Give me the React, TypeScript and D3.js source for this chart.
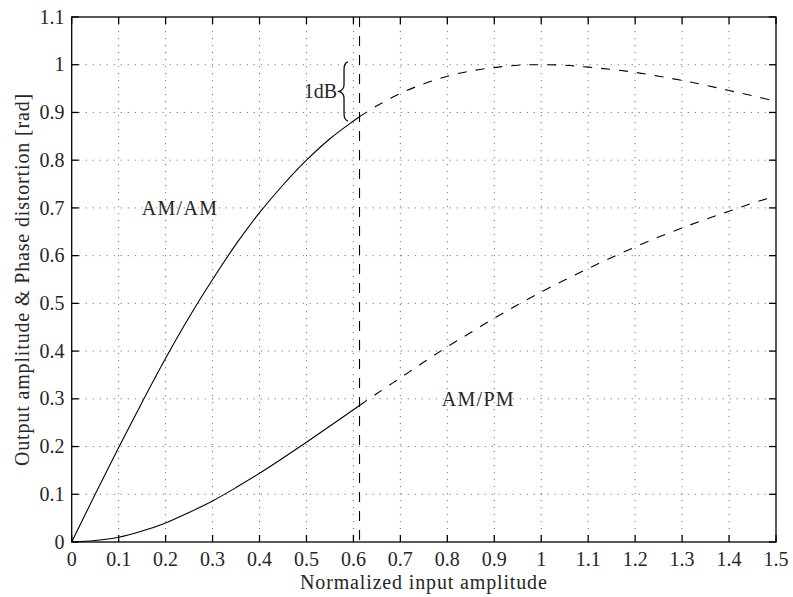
import React from "react";
import * as d3 from "d3";

// Normalized input amplitude samples
const inputAmp = [
  0, 0.05, 0.1, 0.15, 0.2, 0.25, 0.3, 0.35, 0.4, 0.45, 0.5, 0.55, 0.6, 0.613,
  0.65, 0.7, 0.75, 0.8, 0.85, 0.9, 0.95, 1.0, 1.05, 1.1, 1.15, 1.2, 1.25, 1.3,
  1.35, 1.4, 1.45, 1.5,
];

// AM/AM: output amplitude
const amAm = [
  0, 0.1, 0.198, 0.293, 0.385, 0.471, 0.55, 0.624, 0.69, 0.748, 0.8, 0.845,
  0.882, 0.891, 0.914, 0.94, 0.96, 0.976, 0.987, 0.994, 0.999, 1.0, 0.999,
  0.995, 0.99, 0.984, 0.976, 0.967, 0.957, 0.946, 0.935, 0.923,
];

// AM/PM: phase distortion [rad]
const amPm = [
  0, 0.003, 0.01, 0.023, 0.04, 0.062, 0.086, 0.114, 0.144, 0.176, 0.209,
  0.243, 0.277, 0.286, 0.311, 0.344, 0.377, 0.409, 0.439, 0.469, 0.497, 0.524,
  0.549, 0.573, 0.596, 0.618, 0.639, 0.658, 0.676, 0.693, 0.71, 0.725,
];

// 1 dB compression input level
const compressionPoint = 0.613;

const xTicks = d3.range(0, 16).map((i) => i / 10);
const yTicks = d3.range(0, 12).map((i) => i / 10);
const xTickLabels = xTicks.map((v) => String(+v.toFixed(1)));
const yTickLabels = yTicks.map((v) => String(+v.toFixed(1)));

const xLabel = "Normalized input amplitude";
const yLabel = "Output amplitude & Phase distortion [rad]";

const W = 793;
const H = 597;
const M = { left: 71.7, right: 776, top: 17, bottom: 542 };
const FONT = "'Liberation Serif', 'Times New Roman', serif";
const TEXT = "#262626";

export default function App() {
  const x = d3.scaleLinear().domain([0, 1.5]).range([M.left, M.right]);
  const y = d3.scaleLinear().domain([0, 1.1]).range([M.bottom, M.top]);

  const line = d3
    .line<[number, number]>()
    .x((d) => x(d[0]))
    .y((d) => y(d[1]))
    .curve(d3.curveCatmullRom.alpha(0.5));

  const pts = (vals: number[]) => inputAmp.map((r, i) => [r, vals[i]] as [number, number]);
  const solid = (vals: number[]) => pts(vals).filter((p) => p[0] <= compressionPoint);
  const dashed = (vals: number[]) => pts(vals).filter((p) => p[0] >= compressionPoint);

  const tick = 7;

  // curly brace marking the 1 dB span
  const bx = x(0.58);
  const bTop = y(1.006);
  const bBot = y(0.882);
  const bMid = (bTop + bBot) / 2;
  const brace = [
    `M${bx + 4},${bTop}`,
    `C${bx},${bTop + 1} ${bx},${bTop + 5} ${bx},${bTop + 9}`,
    `L${bx},${bMid - 7}`,
    `C${bx},${bMid - 3} ${bx - 2},${bMid - 1} ${bx - 5},${bMid}`,
    `C${bx - 2},${bMid + 1} ${bx},${bMid + 3} ${bx},${bMid + 7}`,
    `L${bx},${bBot - 9}`,
    `C${bx},${bBot - 5} ${bx},${bBot - 1} ${bx + 4},${bBot}`,
  ].join(" ");

  return (
    <svg
      width={W}
      height={H}
      style={{ position: "absolute", left: 0, top: 0, background: "#fff" }}
      fontFamily={FONT}
    >
      <rect width={W} height={H} fill="#fff" />

      {/* dotted grid */}
      <g stroke="#6a6a6a" strokeWidth={0.9} strokeDasharray="1.2 5.8">
        {xTicks.slice(1, -1).map((v) => (
          <line key={"gx" + v} x1={x(v)} x2={x(v)} y1={y(1.1)} y2={y(0)} />
        ))}
        {yTicks.slice(1, -1).map((v) => (
          <line key={"gy" + v} x1={x(0)} x2={x(1.5)} y1={y(v)} y2={y(v)} />
        ))}
      </g>

      {/* curves */}
      <g fill="none" stroke="#000" strokeWidth={1.1}>
        <path d={line(solid(amAm)) || ""} />
        <path d={line(solid(amPm)) || ""} />
        <path d={line(dashed(amAm)) || ""} strokeDasharray="9 9" />
        <path d={line(dashed(amPm)) || ""} strokeDasharray="9 9" />
      </g>

      {/* 1 dB compression marker */}
      <line
        x1={x(compressionPoint)}
        x2={x(compressionPoint)}
        y1={y(1.1)}
        y2={y(0)}
        stroke="#000"
        strokeWidth={1.1}
        strokeDasharray="10 9"
      />
      <path d={brace} fill="none" stroke="#111" strokeWidth={1.3} />
      <text x={bx - 7} y={(bTop + bBot) / 2} dy="0.35em" textAnchor="end" fontSize={20} fill={TEXT}>
        1dB
      </text>

      {/* series labels */}
      <text x={x(0.2307)} y={y(0.7)} dy="0.35em" textAnchor="middle" fontSize={20} letterSpacing={1.3} fill={TEXT}>
        AM/AM
      </text>
      <text x={x(0.866)} y={y(0.3)} dy="0.35em" textAnchor="middle" fontSize={20} letterSpacing={1.3} fill={TEXT}>
        AM/PM
      </text>

      {/* axes box and ticks */}
      <rect
        x={x(0)}
        y={y(1.1)}
        width={x(1.5) - x(0)}
        height={y(0) - y(1.1)}
        fill="none"
        stroke="#000"
        strokeWidth={1.3}
      />
      <g stroke="#000" strokeWidth={1.3}>
        {xTicks.map((v) => (
          <g key={"tx" + v}>
            <line x1={x(v)} x2={x(v)} y1={y(0)} y2={y(0) - tick} />
            <line x1={x(v)} x2={x(v)} y1={y(1.1)} y2={y(1.1) + tick} />
          </g>
        ))}
        {yTicks.map((v) => (
          <g key={"ty" + v}>
            <line x1={x(0)} x2={x(0) + tick} y1={y(v)} y2={y(v)} />
            <line x1={x(1.5)} x2={x(1.5) - tick} y1={y(v)} y2={y(v)} />
          </g>
        ))}
      </g>

      {/* tick labels */}
      <g fontSize={20} fill={TEXT}>
        {xTicks.map((v, i) => (
          <text key={"lx" + v} x={x(v)} y={566} textAnchor="middle">
            {xTickLabels[i]}
          </text>
        ))}
        {yTicks.map((v, i) => (
          <text key={"ly" + v} x={64.5} y={y(v)} dy="0.33em" textAnchor="end">
            {yTickLabels[i]}
          </text>
        ))}
      </g>

      {/* axis titles */}
      <text
        x={(x(0) + x(1.5)) / 2}
        y={589}
        textAnchor="middle"
        fontSize={20}
        letterSpacing={0.85}
        fill={TEXT}
      >
        {xLabel}
      </text>
      <text
        transform={`translate(29,${(y(0) + y(1.1)) / 2}) rotate(-90)`}
        textAnchor="middle"
        fontSize={20}
        letterSpacing={0.85}
        fill={TEXT}
      >
        {yLabel}
      </text>
    </svg>
  );
}
